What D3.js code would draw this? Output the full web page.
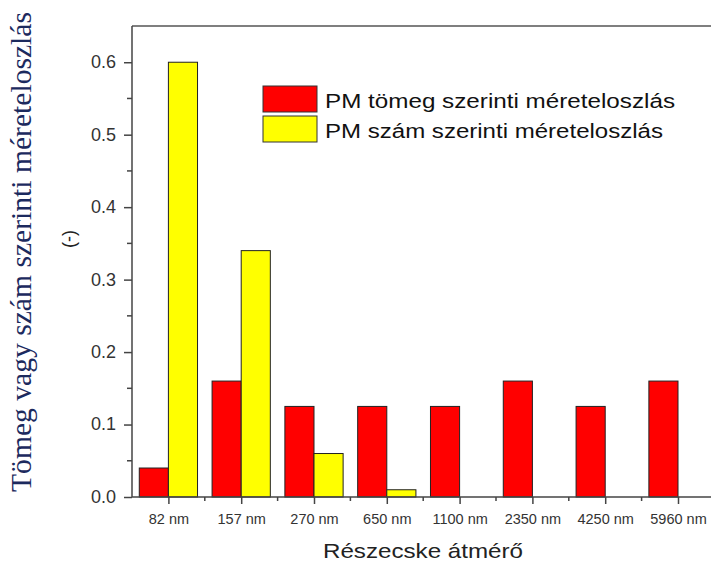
<!DOCTYPE html>
<html>
<head>
<meta charset="utf-8">
<script src="https://cdn.jsdelivr.net/npm/d3@7/dist/d3.min.js"></script>
<style>
  html, body { margin: 0; padding: 0; background: #fff; }
  svg { display: block; }
</style>
</head>
<body>
<script>
// Particle size classes and the two normalised distributions
const categories = ["82 nm", "157 nm", "270 nm", "650 nm", "1100 nm", "2350 nm", "4250 nm", "5960 nm"];
const massValues = [0.04, 0.16, 0.125, 0.125, 0.125, 0.16, 0.125, 0.16];
const numberValues = [0.6, 0.34, 0.06, 0.01, 0, 0, 0, 0];
const yTicks = [0.0, 0.1, 0.2, 0.3, 0.4, 0.5, 0.6];
const seriesNames = ["PM tömeg szerinti méreteloszlás", "PM szám szerinti méreteloszlás"];
const seriesColors = ["#ff0000", "#ffff00"];

const W = 711, H = 563;
const plotLeft = 132, plotTop = 26, plotBottom = 497;
const sans = "'Liberation Sans', Arial, sans-serif";

const svg = d3.select("body").append("svg").attr("width", W).attr("height", H);

// Category index scale: each class sits at 1..8, plot spans 0.5..8.5
const x = d3.scaleLinear().domain([0.5, 8.5]).range([plotLeft, plotLeft + 8 * 72.8]);
const y = d3.scaleLinear().domain([0, 0.65]).range([plotBottom, plotTop]);
const barW = x(0.4) - x(0);

const axisColor = "#444";

// Bars: mass distribution left of centre, number distribution right of centre
const g = svg.append("g");
g.selectAll("rect.mass").data(massValues).join("rect")
  .attr("class", "mass")
  .attr("x", (d, i) => x(i + 1) - barW)
  .attr("y", d => y(d))
  .attr("width", barW)
  .attr("height", d => y(0) - y(d))
  .attr("fill", seriesColors[0])
  .attr("stroke", "#222").attr("stroke-width", 1);

g.selectAll("rect.num").data(numberValues).join("rect")
  .attr("class", "num")
  .attr("x", (d, i) => x(i + 1))
  .attr("y", d => y(d))
  .attr("width", barW)
  .attr("height", d => y(0) - y(d))
  .attr("fill", seriesColors[1])
  .attr("stroke", "#222").attr("stroke-width", 1)
  .attr("display", d => d > 0 ? null : "none");

// Frame: top border
svg.append("line").attr("x1", plotLeft).attr("x2", W + 10).attr("y1", plotTop).attr("y2", plotTop)
  .attr("stroke", "#555").attr("stroke-width", 1.5);

// Y axis
const yAxis = svg.append("g").attr("transform", `translate(${plotLeft},0)`)
  .call(d3.axisLeft(y).tickValues(yTicks).tickFormat(d3.format(".1f")).tickSize(8).tickSizeOuter(0));
yAxis.select(".domain").attr("stroke", axisColor).attr("stroke-width", 1.5)
  .attr("d", `M0,${plotBottom}V${plotTop}`);
yAxis.selectAll(".tick line").attr("stroke", axisColor).attr("stroke-width", 1.5);
yAxis.selectAll(".tick text").attr("fill", "#333")
  .style("font-family", sans).style("font-size", "18px").attr("x", -16).attr("dy", "0.3em");
// Minor y ticks
const yMinor = [0.05, 0.15, 0.25, 0.35, 0.45, 0.55];
svg.append("g").selectAll("line").data(yMinor).join("line")
  .attr("x1", plotLeft - 5).attr("x2", plotLeft).attr("y1", d => y(d)).attr("y2", d => y(d))
  .attr("stroke", axisColor).attr("stroke-width", 1.5);

// X axis
const xAxis = svg.append("g").attr("transform", `translate(0,${plotBottom})`)
  .call(d3.axisBottom(x).tickValues(d3.range(1, 9)).tickFormat((d, i) => categories[i]).tickSize(7).tickSizeOuter(0));
xAxis.select(".domain").attr("stroke", axisColor).attr("stroke-width", 1.5)
  .attr("d", `M${plotLeft},0H${W + 10}`);
xAxis.selectAll(".tick line").attr("stroke", axisColor).attr("stroke-width", 1.5);
xAxis.selectAll(".tick text").attr("fill", "#333")
  .style("font-family", sans).style("font-size", "14.5px").attr("y", 17);
// Minor x ticks at class boundaries
svg.append("g").selectAll("line").data(d3.range(1.5, 8.5, 1)).join("line")
  .attr("x1", d => x(d)).attr("x2", d => x(d)).attr("y1", plotBottom).attr("y2", plotBottom + 4)
  .attr("stroke", axisColor).attr("stroke-width", 1.5);

// Axis titles
svg.append("text")
  .attr("transform", "translate(31,252) rotate(-90)")
  .attr("text-anchor", "middle")
  .attr("fill", "#1c2a5e")
  .attr("textLength", 480).attr("lengthAdjust", "spacingAndGlyphs")
  .style("font-family", "'Liberation Serif', 'Times New Roman', serif").style("font-size", "28.5px")
  .text("Tömeg vagy szám szerinti méreteloszlás");
svg.append("text")
  .attr("transform", "translate(75,239) rotate(-90)")
  .attr("text-anchor", "middle")
  .attr("fill", "#222")
  .style("font-family", sans).style("font-size", "18px")
  .text("(-)");
svg.append("text")
  .attr("x", 323).attr("y", 558)
  .attr("fill", "#222")
  .attr("textLength", 200).attr("lengthAdjust", "spacingAndGlyphs")
  .style("font-family", sans).style("font-size", "21px")
  .text("Részecske átmérő");

// Legend
const legendWidths = [350, 338];
const legend = svg.append("g").attr("transform", "translate(263,86)");
seriesNames.forEach((name, i) => {
  legend.append("rect").attr("x", 0).attr("y", i * 30).attr("width", 54).attr("height", 26)
    .attr("fill", seriesColors[i]).attr("stroke", "#333").attr("stroke-width", 1);
  legend.append("text").attr("x", 62).attr("y", i * 30 + 22)
    .attr("fill", "#111")
    .attr("textLength", legendWidths[i]).attr("lengthAdjust", "spacingAndGlyphs")
    .style("font-family", sans).style("font-size", "20px")
    .text(name);
});
</script>
</body>
</html>
